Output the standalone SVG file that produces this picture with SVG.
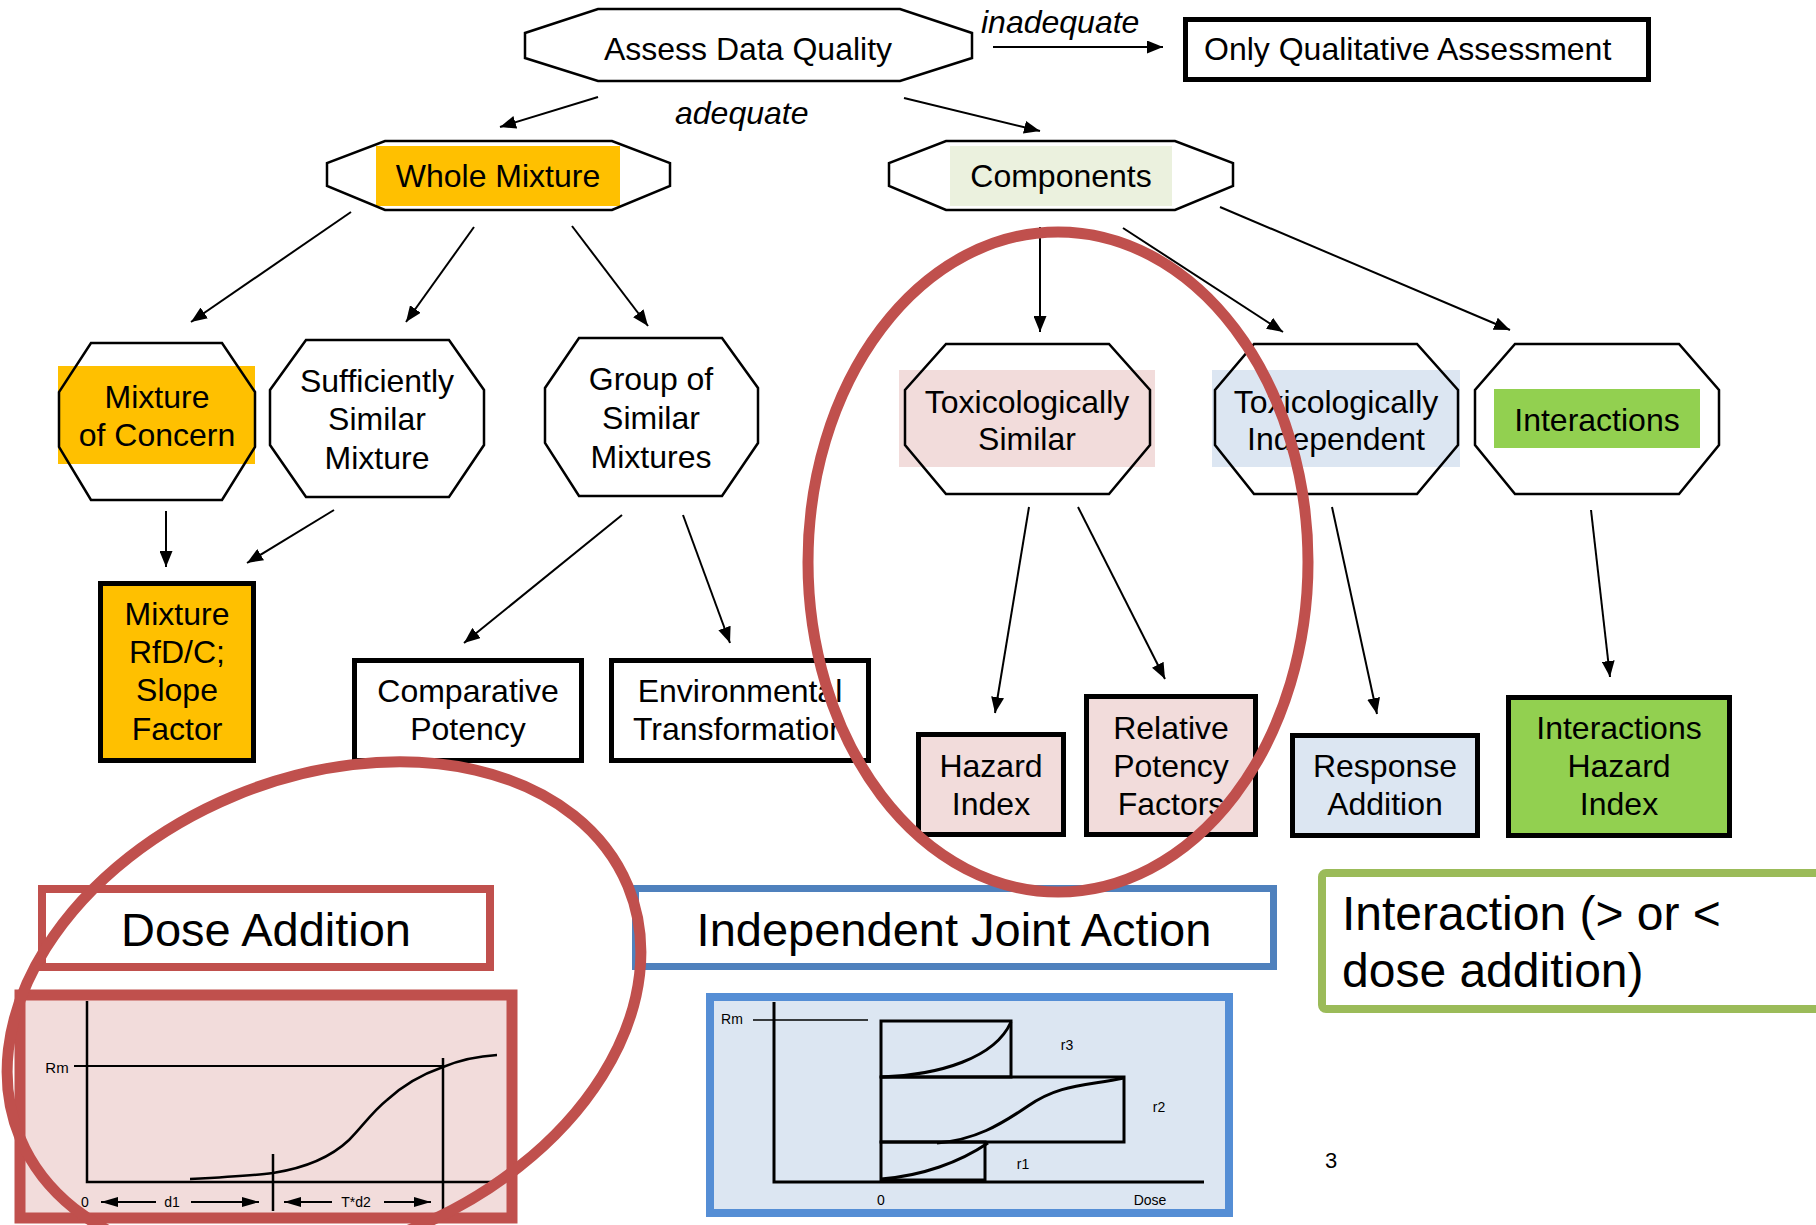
<svg xmlns="http://www.w3.org/2000/svg" width="1816" height="1225" viewBox="0 0 1816 1225">
<style>
text{font-family:"Liberation Sans",Arial,sans-serif;fill:#000}
.t{font-size:32px;text-anchor:middle}
.it{font-size:32px;font-style:italic}
.big{font-size:47px}
.sm{font-size:14px}
.oct{fill:#fff;stroke:none}
.octs{fill:none;stroke:#000;stroke-width:2.5}
.box{stroke:#000;stroke-width:5}
.conn line{stroke:#000;stroke-width:2;marker-end:url(#ah)}
.ax{stroke:#000;stroke-width:2.5;fill:none}
.ring{fill:none;stroke:#C0504D;stroke-width:11}
</style>
<defs>
<marker id="ah" markerUnits="userSpaceOnUse" markerWidth="16" markerHeight="13" refX="16" refY="6.5" orient="auto"><path d="M0,0 L16,6.5 L0,13 z" fill="#000"/></marker>
<marker id="sa" markerUnits="userSpaceOnUse" markerWidth="17" markerHeight="10" refX="17" refY="5" orient="auto"><path d="M0,0 L17,5 L0,10 z" fill="#000"/></marker>
</defs>
<rect width="1816" height="1225" fill="#fff"/>

<g id="connectors" class="conn">
<line x1="598" y1="97" x2="500" y2="127"/>
<line x1="904" y1="98" x2="1040" y2="131"/>
<line x1="993" y1="47" x2="1163" y2="47"/>
<line x1="351" y1="212" x2="191" y2="322"/>
<line x1="474" y1="227" x2="406" y2="322"/>
<line x1="572" y1="226" x2="648" y2="326"/>
<line x1="166" y1="511" x2="166" y2="567"/>
<line x1="334" y1="510" x2="247" y2="563"/>
<line x1="622" y1="515" x2="464" y2="643"/>
<line x1="683" y1="515" x2="730" y2="643"/>
<line x1="1040" y1="227" x2="1040" y2="332"/>
<line x1="1123" y1="228" x2="1283" y2="332"/>
<line x1="1220" y1="207" x2="1510" y2="330"/>
<line x1="1029" y1="507" x2="995" y2="713"/>
<line x1="1078" y1="507" x2="1165" y2="679"/>
<line x1="1332" y1="507" x2="1377" y2="714"/>
<line x1="1591" y1="510" x2="1610" y2="677"/>
</g>
<text class="it" x="981" y="33">inadequate</text>
<text class="it" x="675" y="124">adequate</text>

<g id="assess">
<polygon class="oct" points="598,9 900,9 972,33 972,58 900,81 598,81 525,58 525,33"/>
<polygon class="octs" points="598,9 900,9 972,33 972,58 900,81 598,81 525,58 525,33"/>
<text class="t" x="748" y="60">Assess Data Quality</text>
</g>
<g id="only">
<rect class="box" x="1185.5" y="19.5" width="463" height="60" fill="#fff"/>
<text style="font-size:32px" x="1204" y="60">Only Qualitative Assessment</text>
</g>
<g id="whole">
<polygon class="oct" points="385,141 612,141 670,163 670,186 612,210 385,210 327,186 327,163"/>
<rect x="376" y="146" width="244" height="60" fill="#FFC000"/>
<polygon class="octs" points="385,141 612,141 670,163 670,186 612,210 385,210 327,186 327,163"/>
<text class="t" x="498" y="187">Whole Mixture</text>
</g>
<g id="components">
<polygon class="oct" points="946,141 1175,141 1233,163 1233,186 1175,210 946,210 889,186 889,163"/>
<rect x="950" y="146" width="222" height="60" fill="#EBF1DE"/>
<polygon class="octs" points="946,141 1175,141 1233,163 1233,186 1175,210 946,210 889,186 889,163"/>
<text class="t" x="1061" y="187">Components</text>
</g>
<g id="moc">
<polygon class="oct" points="91,343 222,343 255,392 255,447 222,500 91,500 59,447 59,392"/>
<rect x="58" y="366" width="197" height="98" fill="#FFC000"/>
<polygon class="octs" points="91,343 222,343 255,392 255,447 222,500 91,500 59,447 59,392"/>
<text class="t" x="157" y="408">Mixture</text>
<text class="t" x="157" y="446">of Concern</text>
</g>
<g id="ssm">
<polygon class="oct" points="306,340 449,340 484,390 484,445 449,497 306,497 270,445 270,390"/>
<polygon class="octs" points="306,340 449,340 484,390 484,445 449,497 306,497 270,445 270,390"/>
<text class="t" x="377" y="392">Sufficiently</text>
<text class="t" x="377" y="430">Similar</text>
<text class="t" x="377" y="469">Mixture</text>
</g>
<g id="group">
<polygon class="oct" points="579,338 722,338 758,388 758,443 722,496 579,496 545,443 545,388"/>
<polygon class="octs" points="579,338 722,338 758,388 758,443 722,496 579,496 545,443 545,388"/>
<text class="t" x="651" y="390">Group of</text>
<text class="t" x="651" y="429">Similar</text>
<text class="t" x="651" y="468">Mixtures</text>
</g>
<g id="toxsim">
<polygon class="oct" points="946,344 1109,344 1150,390 1150,445 1109,494 946,494 905,445 905,390"/>
<rect x="899" y="370" width="256" height="97" fill="#F2DCDB"/>
<polygon class="octs" points="946,344 1109,344 1150,390 1150,445 1109,494 946,494 905,445 905,390"/>
<text class="t" x="1027" y="413">Toxicologically</text>
<text class="t" x="1027" y="450">Similar</text>
</g>
<g id="toxind">
<polygon class="oct" points="1254,344 1417,344 1458,390 1458,445 1417,494 1254,494 1215,445 1215,390"/>
<rect x="1212" y="370" width="248" height="97" fill="#DCE6F2"/>
<polygon class="octs" points="1254,344 1417,344 1458,390 1458,445 1417,494 1254,494 1215,445 1215,390"/>
<text class="t" x="1336" y="413">Toxicologically</text>
<text class="t" x="1336" y="450">Independent</text>
</g>
<g id="interactions">
<polygon class="oct" points="1515,344 1679,344 1719,390 1719,445 1679,494 1515,494 1475,445 1475,390"/>
<rect x="1494" y="389" width="206" height="59" fill="#92D050"/>
<polygon class="octs" points="1515,344 1679,344 1719,390 1719,445 1679,494 1515,494 1475,445 1475,390"/>
<text class="t" x="1597" y="431">Interactions</text>
</g>
<g id="rfd">
<rect class="box" x="100.5" y="583.5" width="153" height="177" fill="#FFC000"/>
<text class="t" x="177" y="625">Mixture</text>
<text class="t" x="177" y="663">RfD/C;</text>
<text class="t" x="177" y="701">Slope</text>
<text class="t" x="177" y="740">Factor</text>
</g>
<g id="comparative">
<rect class="box" x="354.5" y="660.5" width="227" height="100" fill="#fff"/>
<text class="t" x="468" y="702">Comparative</text>
<text class="t" x="468" y="740">Potency</text>
</g>
<g id="environmental">
<rect class="box" x="611.5" y="660.5" width="257" height="100" fill="#fff"/>
<text class="t" x="740" y="702">Environmental</text>
<text class="t" x="740" y="740">Transformation</text>
</g>
<g id="hazard">
<rect class="box" x="918.5" y="734.5" width="145" height="100" fill="#F2DCDB"/>
<text class="t" x="991" y="777">Hazard</text>
<text class="t" x="991" y="815">Index</text>
</g>
<g id="rpf">
<rect class="box" x="1086.5" y="696.5" width="169" height="138" fill="#F2DCDB"/>
<text class="t" x="1171" y="739">Relative</text>
<text class="t" x="1171" y="777">Potency</text>
<text class="t" x="1171" y="815">Factors</text>
</g>
<g id="response">
<rect class="box" x="1292.5" y="735.5" width="185" height="100" fill="#DCE6F2"/>
<text class="t" x="1385" y="777">Response</text>
<text class="t" x="1385" y="815">Addition</text>
</g>
<g id="ihi">
<rect class="box" x="1508.5" y="697.5" width="221" height="138" fill="#92D050"/>
<text class="t" x="1619" y="739">Interactions</text>
<text class="t" x="1619" y="777">Hazard</text>
<text class="t" x="1619" y="815">Index</text>
</g>

<g id="dose-addition">
<rect x="42" y="889" width="448" height="78" fill="#fff" stroke="#C0504D" stroke-width="8"/>
<text class="big" x="266" y="946" text-anchor="middle">Dose Addition</text>
</g>
<g id="dose-chart">
<rect x="20" y="995" width="492" height="223" fill="#F2DCDB" stroke="#C0504D" stroke-width="11"/>
<path class="ax" d="M87,1001 V1182 H492"/>
<path d="M74,1066 H444" stroke="#000" stroke-width="2"/>
<path class="ax" d="M273,1154 V1211 M443,1058 V1213"/>
<path class="ax" d="M190,1179 Q250,1176 273,1173 C305,1168 330,1158 349,1140 C362,1127 372,1112 387,1100 C400,1088 420,1075 443,1067 C460,1060 480,1056 497,1055"/>
<text class="sm" x="57" y="1073" text-anchor="middle" style="font-size:15px">Rm</text>
<text class="sm" x="85" y="1207" text-anchor="middle">0</text>
<text class="sm" x="172" y="1207" text-anchor="middle">d1</text>
<text class="sm" x="356" y="1207" text-anchor="middle">T*d2</text>
<g stroke="#000" stroke-width="2" marker-end="url(#sa)">
<line x1="156" y1="1202" x2="101" y2="1202"/>
<line x1="191" y1="1202" x2="259" y2="1202"/>
<line x1="332" y1="1202" x2="284" y2="1202"/>
<line x1="384" y1="1202" x2="431" y2="1202"/>
</g>
</g>

<g id="independent-joint-action">
<rect x="635.5" y="888.5" width="638" height="78" fill="#fff" stroke="#4F81BD" stroke-width="7"/>
<text class="big" x="954" y="946" text-anchor="middle">Independent Joint Action</text>
</g>
<g id="ija-chart">
<rect x="710" y="997" width="519" height="216" fill="#DCE6F2" stroke="#558ED5" stroke-width="8"/>
<path d="M774,1002 V1182 H1204" stroke="#000" stroke-width="3" fill="none"/>
<path d="M753,1020 H868" stroke="#000" stroke-width="1.5"/>
<g fill="none" stroke="#000" stroke-width="3">
<rect x="881" y="1021" width="130" height="56"/>
<rect x="881" y="1077" width="243" height="65"/>
<rect x="881" y="1142" width="104" height="38"/>
<path d="M881,1077 C940,1075 995,1058 1011,1022"/>
<path d="M937,1143 C975,1140 1000,1125 1028,1106 C1060,1084 1085,1086 1124,1078"/>
<path d="M881,1179 C922,1176 960,1162 988,1143"/>
</g>
<text class="sm" x="732" y="1024" text-anchor="middle">Rm</text>
<text class="sm" x="1067" y="1050" text-anchor="middle">r3</text>
<text class="sm" x="1159" y="1112" text-anchor="middle">r2</text>
<text class="sm" x="1023" y="1169" text-anchor="middle">r1</text>
<text class="sm" x="881" y="1205" text-anchor="middle">0</text>
<text class="sm" x="1150" y="1205" text-anchor="middle">Dose</text>
</g>

<g id="interaction-note">
<rect x="1322" y="873" width="504" height="136" rx="4" fill="#fff" stroke="#9BBB59" stroke-width="8"/>
<text class="big" x="1342" y="930" style="font-size:48px">Interaction (&gt; or &lt;</text>
<text class="big" x="1342" y="987" style="font-size:48px">dose addition)</text>
</g>
<text x="1331" y="1168" text-anchor="middle" style="font-size:22px">3</text>

<g id="highlight-rings">
<ellipse class="ring" cx="1058" cy="562" rx="250" ry="330"/>
<ellipse class="ring" cx="324" cy="1012" rx="329" ry="234" transform="rotate(-22.5 324 1012)"/>
</g>
</svg>
